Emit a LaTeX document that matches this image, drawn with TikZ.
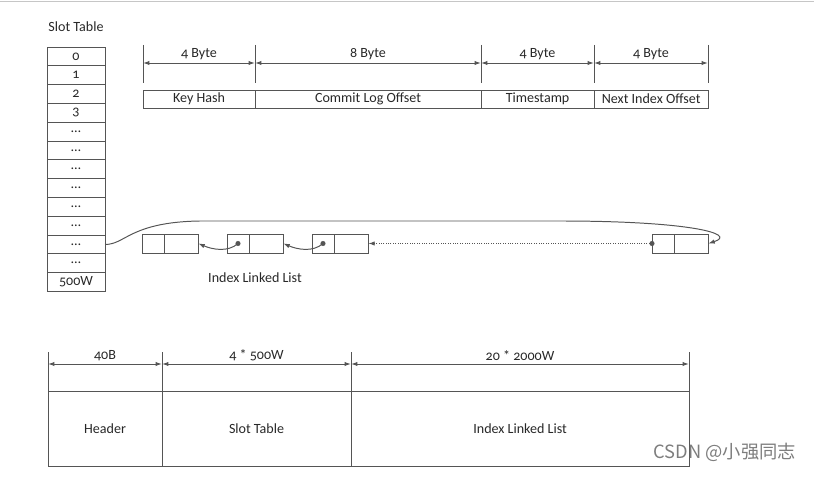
\documentclass[tikz,border=0pt]{standalone}
\usepackage{fontspec}
\setmainfont{Carlito}[Numbers=OldStyle]
\newfontfamily\cjkfont{Noto Sans CJK SC}
\usetikzlibrary{positioning, calc, arrows.meta}
\definecolor{lineclr}{RGB}{85,85,85}
\definecolor{textclr}{RGB}{40,40,40}
\definecolor{markclr}{RGB}{125,125,125}

\begin{document}
\begin{tikzpicture}[
    x=0.025cm, y=-0.025cm,
    every node/.style={align=center, text=textclr, font=\normalsize},
    box/.style={draw=lineclr, line width=0.7pt, outer sep=0pt, inner sep=0pt},
    cell/.style={box, minimum width=1.45cm, minimum height=0.47cm},
    field/.style={box, minimum height=0.45cm},
    part/.style={box, minimum height=0.475cm},
    seg/.style={box, minimum height=1.875cm},
    tick/.style={draw=lineclr, line width=0.7pt},
    dim/.style={draw=lineclr, line width=0.7pt, {Latex[length=4.5pt,width=3pt]}-{Latex[length=4.5pt,width=3pt]}},
    dimlabel/.style={above, inner sep=2pt},
    link/.style={draw=lineclr, line width=0.7pt, -{Latex[length=4.5pt,width=3.2pt]}}
]
    \useasboundingbox (0,0) rectangle (814,497);
    \draw[gray!45, line width=1pt] (0,1.5) -- (814,1.5);

    % Slot table
    \node (slotTitle) at (76,27) {Slot Table};
    \foreach \i/\lbl in {0/0,1/1,2/2,3/3,4/…,5/…,6/…,7/…,8/…,9/…,10/…,11/…,12/500W}
        \node[cell] (s\i) at (76,{56.4+18.8*\i}) {\lbl};

    % Index record
    \node[field, minimum width=2.8cm, anchor=west] (keyHash) at (143,99) {Key Hash};
    \node[field, minimum width=5.65cm, right=0pt of keyHash] (logOffset) {Commit Log Offset};
    \node[field, minimum width=2.825cm, right=0pt of logOffset] (timestamp) {Timestamp};
    \node[field, minimum width=2.85cm, right=0pt of timestamp] (nextOffset) {Next Index Offset};

    \foreach \n/\x in {0/143,1/255,2/481,3/594,4/708} {
        \coordinate (t\n) at (\x,45);
        \coordinate (a\n) at (\x,63);
        \draw[tick] (t\n) -- ++(0,38);
    }
    \draw[dim] (a0) -- node[dimlabel] {4 Byte} (a1);
    \draw[dim] (a1) -- node[dimlabel] {8 Byte} (a2);
    \draw[dim] (a2) -- node[dimlabel] {4 Byte} (a3);
    \draw[dim] (a3) -- node[dimlabel] {4 Byte} (a4);

    % Linked list
    \foreach \n/\x in {1/142,2/227,3/312,4/652} {
        \node[part, minimum width=0.55cm, anchor=west] (ptr\n) at (\x,243.5) {};
        \node[part, minimum width=0.86cm, right=0pt of ptr\n] (dat\n) {};
    }
    \fill[lineclr] (ptr2.center) circle (1.8pt);
    \fill[lineclr] (ptr3.center) circle (1.8pt);
    \fill[lineclr] (ptr4.west) circle (1.8pt);
    \draw[link] (ptr2.center) .. controls +(-10,9) and +(14,6) .. (dat1.east);
    \draw[link] (ptr3.center) .. controls +(-10,9) and +(14,6) .. (dat2.east);
    \draw[link, densely dotted] (ptr4.west) -- (dat3.east);
    \draw[link] (s10.east) .. controls (125,245) and (130,222) .. (200,221)
        -- (560,221) .. controls (690,221) and (738,234) .. (dat4.east);
    \node (listLabel) at (255,278) {Index Linked List};

    % File layout
    \node[seg, minimum width=2.85cm, anchor=north west] (header) at (48,391) {Header};
    \node[seg, minimum width=4.725cm, right=0pt of header] (slotArea) {Slot Table};
    \node[seg, minimum width=8.45cm, right=0pt of slotArea] (listArea) {Index Linked List};

    \foreach \n/\x in {0/48,1/162,2/351,3/689} {
        \coordinate (b\n) at (\x,352);
        \coordinate (c\n) at (\x,364);
        \draw[tick] (b\n) -- (b\n |- header.north);
    }
    \draw[dim] (c0) -- node[dimlabel] {40B} (c1);
    \draw[dim] (c1) -- node[dimlabel] {4 * 500W} (c2);
    \draw[dim] (c2) -- node[dimlabel] {20 * 2000W} (c3);

    \node[text=markclr, font=\cjkfont\fontsize{13}{15}\selectfont, anchor=east] (mark) at (801,452) {CSDN @小强同志};
\end{tikzpicture}
\end{document}
